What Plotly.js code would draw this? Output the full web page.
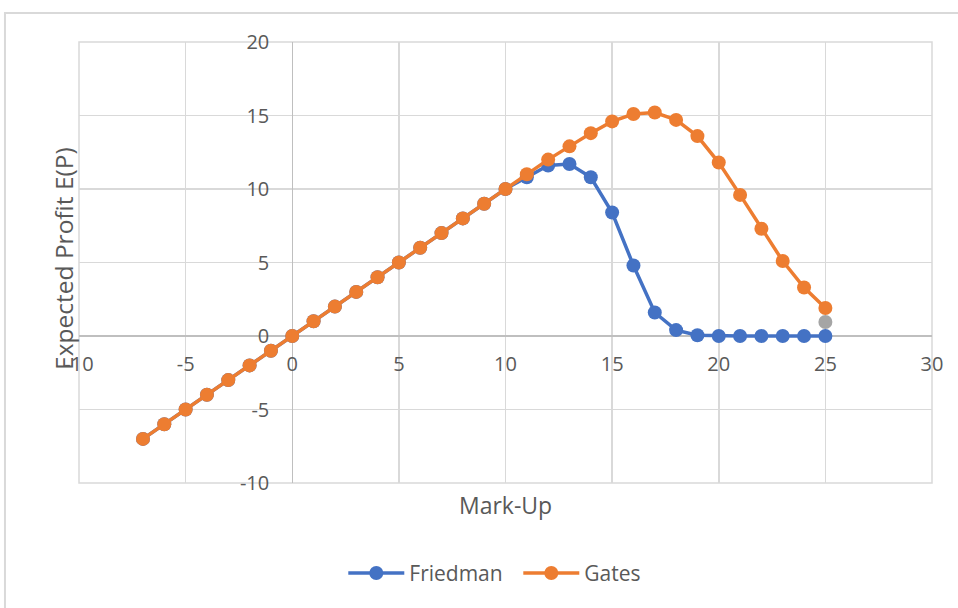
<!DOCTYPE html>
<html>
<head>
<meta charset="utf-8">
<script src="https://cdn.plot.ly/plotly-3.0.1.min.js"></script>
<style>
  html, body { margin: 0; padding: 0; background: #ffffff; }
  #chart { width: 958px; height: 608px; }
</style>
</head>
<body>
<div id="chart"></div>
<script>
const markUp = [-7, -6, -5, -4, -3, -2, -1, 0, 1, 2, 3, 4, 5, 6, 7, 8, 9, 10,
                11, 12, 13, 14, 15, 16, 17, 18, 19, 20, 21, 22, 23, 24, 25];
const friedman = [-7, -6, -5, -4, -3, -2, -1, 0, 1, 2, 3, 4, 5, 6, 7, 8, 9, 10,
                  10.8, 11.6, 11.7, 10.8, 8.4, 4.8, 1.6, 0.4, 0.05, 0, 0, 0, 0, 0, 0];
const gates = [-7, -6, -5, -4, -3, -2, -1, 0, 1, 2, 3, 4, 5, 6, 7, 8, 9, 10,
               11, 12, 12.9, 13.8, 14.6, 15.1, 15.2, 14.7, 13.6, 11.8, 9.6, 7.3, 5.1, 3.3, 1.9];
const extraX = [25];
const extraY = [0.95];

const xTicks = [-10, -5, 0, 5, 10, 15, 20, 25, 30];
const yTicks = [-10, -5, 0, 5, 10, 15, 20];

const FONT = "Open Sans, Liberation Sans, sans-serif";
const TXT = "#595959";

const traces = [
  {
    x: extraX, y: extraY, type: "scatter", mode: "markers",
    marker: { color: "#A5A5A5", size: 14 }, showlegend: false, hoverinfo: "skip"
  },
  {
    x: markUp, y: friedman, name: "Friedman", type: "scatter", mode: "lines+markers",
    line: { color: "#4472C4", width: 3.5 },
    marker: { color: "#4472C4", size: 14 }
  },
  {
    x: markUp, y: gates, name: "Gates", type: "scatter", mode: "lines+markers",
    line: { color: "#ED7D31", width: 3.5 },
    marker: { color: "#ED7D31", size: 14 }
  }
];

const layout = {
  width: 958, height: 608,
  margin: { l: 79, r: 26, t: 42, b: 125 },
  paper_bgcolor: "#ffffff", plot_bgcolor: "#ffffff",
  font: { family: FONT, color: TXT, size: 20 },
  showlegend: true,
  hovermode: false,
  xaxis: {
    range: [-10, 30], tickvals: xTicks, ticktext: xTicks.map(String),
    anchor: "free", position: 1/3,
    showgrid: true, gridcolor: "#d9d9d9", gridwidth: 1.5,
    zeroline: true, zerolinecolor: "#bfbfbf", zerolinewidth: 1.5,
    showline: false, ticks: "", ticklabelstandoff: 14,
    tickfont: { family: FONT, color: TXT, size: 20 }
  },
  yaxis: {
    range: [-10, 20], tickvals: yTicks, ticktext: yTicks.map(String),
    anchor: "free", position: 0.25,
    showgrid: true, gridcolor: "#d9d9d9", gridwidth: 1.5,
    zeroline: true, zerolinecolor: "#bfbfbf", zerolinewidth: 1.5,
    showline: false, ticks: "", ticklabelstandoff: 23,
    tickfont: { family: FONT, color: TXT, size: 20 }
  },
  legend: {
    orientation: "h", x: 0.515, xanchor: "center", y: -0.205, yanchor: "middle",
    font: { family: FONT, color: TXT, size: 21 }, itemwidth: 56,
    entrywidth: 104, entrywidthmode: "pixels",
    bgcolor: "rgba(0,0,0,0)"
  },
  annotations: [
    {
      text: "Mark-Up", xref: "paper", yref: "paper", x: 0.5, y: -0.05,
      xanchor: "center", yanchor: "middle", showarrow: false,
      font: { family: FONT, color: TXT, size: 23 }
    },
    {
      text: "Expected Profit E(P)", xref: "paper", yref: "paper", x: -0.019, y: 0.51,
      xanchor: "center", yanchor: "middle", showarrow: false, textangle: -90,
      font: { family: FONT, color: TXT, size: 24.5 }
    }
  ],
  shapes: [
    {
      type: "rect", xref: "paper", yref: "paper",
      x0: 0, x1: 1, y0: 0, y1: 1, layer: "below",
      line: { color: "#d9d9d9", width: 1.5 }
    },
    {
      type: "rect", xref: "paper", yref: "paper",
      x0: -0.0868, x1: 1.04, y0: -0.30, y1: 1.0658, layer: "below",
      line: { color: "#d9d9d9", width: 2 }
    }
  ]
};

Plotly.newPlot("chart", traces, layout, { displayModeBar: false, staticPlot: true });
</script>
</body>
</html>
